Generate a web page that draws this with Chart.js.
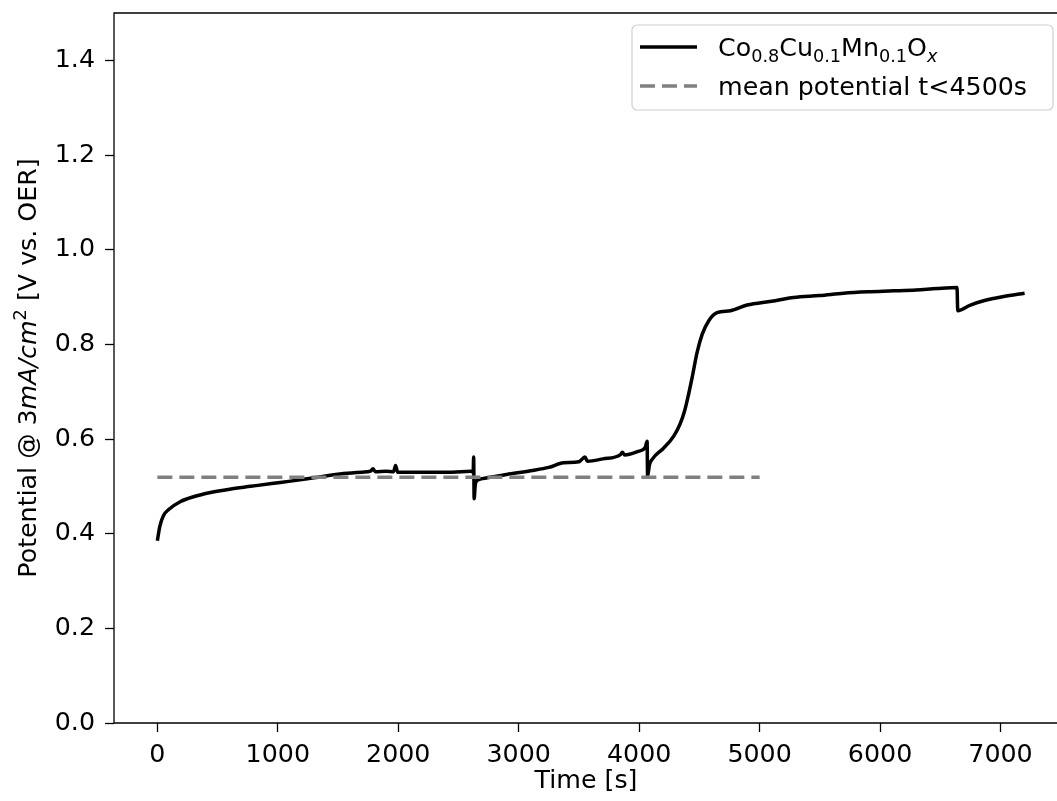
<!DOCTYPE html>
<html>
<head>
<meta charset="utf-8">
<script src="https://cdn.jsdelivr.net/npm/chart.js@4.4.0/dist/chart.umd.min.js"></script>
<style>
  html, body { margin: 0; padding: 0; background: #fff; overflow: hidden; }
  #wrap { width: 1057px; height: 801px; }
</style>
</head>
<body>
<div id="wrap"><canvas id="chart" width="1057" height="801"></canvas></div>
<script>
// measured series (time in s, potential in V)
const times = [0, 20, 50, 94, 193, 300, 442, 600, 774, 950, 1106, 1300, 1546, 1700, 1770, 1790, 1810, 1900,
  1960, 1978, 1995, 2100, 2300, 2450, 2600, 2622, 2626, 2630, 2640, 2666, 2739, 2900, 3098, 3250, 3372,
  3500, 3550, 3570, 3700, 3845, 3860, 3880, 3994, 4050, 4066, 4070, 4085, 4108, 4204, 4287, 4340, 4380,
  4410, 4440, 4481, 4523, 4578, 4647, 4758, 4896, 5100, 5283, 5500, 5698, 5900, 6113, 6300, 6473, 6639,
  6645, 6750, 6860, 7026, 7200]
const potential = [0.385, 0.415, 0.438, 0.451, 0.468, 0.478, 0.487, 0.494, 0.500, 0.506, 0.511, 0.518, 0.527,
  0.530, 0.532, 0.537, 0.531, 0.532, 0.531, 0.544, 0.530, 0.530, 0.530, 0.530, 0.532, 0.530, 0.562, 0.474,
  0.505, 0.514, 0.518, 0.525, 0.533, 0.540, 0.550, 0.552, 0.562, 0.553, 0.558, 0.567, 0.572, 0.566, 0.574,
  0.582, 0.595, 0.521, 0.545, 0.557, 0.581, 0.606, 0.632, 0.662, 0.694, 0.730, 0.783, 0.821, 0.850, 0.867,
  0.871, 0.883, 0.891, 0.899, 0.903, 0.908, 0.911, 0.913, 0.915, 0.918, 0.920, 0.871, 0.883, 0.892, 0.901,
  0.908]

const meanTimes = [0, 5000]
const meanPotential = [0.519, 0.519]

const xTicks = [0, 1000, 2000, 3000, 4000, 5000, 6000, 7000]
const yTicks = [0.0, 0.2, 0.4, 0.6, 0.8, 1.0, 1.2, 1.4]

const FONT = "'DejaVu Sans', sans-serif"
const FS = 25.3
Chart.defaults.font.family = FONT
Chart.defaults.color = '#000'

// text made of runs: {t, italic, sub, sup}
function runFont(r, size) {
  const s = (r.sub || r.sup) ? size * 0.7 : size
  return (r.italic ? 'italic ' : '') + s + 'px ' + FONT
}
function runsWidth(ctx, runs, size) {
  let w = 0
  runs.forEach(r => { ctx.font = runFont(r, size); w += ctx.measureText(r.t).width })
  return w
}
function drawRuns(ctx, runs, x, y, size) {
  ctx.textBaseline = 'alphabetic'
  ctx.textAlign = 'left'
  runs.forEach(r => {
    ctx.font = runFont(r, size)
    const dy = r.sub ? size * 0.22 : r.sup ? -size * 0.4 : 0
    ctx.fillText(r.t, x, y + dy)
    x += ctx.measureText(r.t).width
  })
}

const yTitle = [
  { t: 'Potential @ ' }, { t: '3' }, { t: 'mA/cm', italic: true }, { t: '2', sup: true }, { t: ' [V vs. OER]' }
]
const legendRows = [
  { runs: [{ t: 'Co' }, { t: '0.8', sub: true }, { t: 'Cu' }, { t: '0.1', sub: true }, { t: 'Mn' },
    { t: '0.1', sub: true }, { t: 'O' }, { t: 'x', sub: true, italic: true }], color: '#000', dash: [] },
  { runs: [{ t: 'mean potential t<4500s' }], color: '#808080', dash: [15, 7] }
]

const decor = {
  id: 'decor',
  afterDraw(chart) {
    const { ctx, chartArea: a } = chart
    ctx.save()
    // frame (right spine falls outside the picture)
    ctx.strokeStyle = '#000'
    ctx.lineWidth = 1.3
    ctx.beginPath()
    ctx.moveTo(a.right + 5, a.top)
    ctx.lineTo(a.left, a.top)
    ctx.lineTo(a.left, a.bottom)
    ctx.lineTo(a.right + 5, a.bottom)
    ctx.stroke()
    ctx.fillStyle = '#000'

    // x title
    ctx.font = FS + 'px ' + FONT
    ctx.textAlign = 'center'
    ctx.textBaseline = 'middle'
    ctx.fillText('Time [s]', 586, 781)

    // y title
    ctx.save()
    ctx.translate(27, 368)
    ctx.rotate(-Math.PI / 2)
    const w = runsWidth(ctx, yTitle, FS)
    drawRuns(ctx, yTitle, -w / 2, 9.2, FS)
    ctx.restore()

    // legend
    const bx = 632, by = 25, bw = 421, bh = 85, r = 5
    ctx.beginPath()
    ctx.roundRect(bx, by, bw, bh, r)
    ctx.fillStyle = 'rgba(255,255,255,0.8)'
    ctx.fill()
    ctx.strokeStyle = '#d0d0d0'
    ctx.lineWidth = 1.2
    ctx.stroke()
    const rowY = [47, 86]
    legendRows.forEach((row, i) => {
      ctx.beginPath()
      ctx.setLineDash(row.dash)
      ctx.strokeStyle = row.color
      ctx.lineWidth = 3.5
      ctx.moveTo(640, rowY[i])
      ctx.lineTo(697, rowY[i])
      ctx.stroke()
      ctx.setLineDash([])
      ctx.fillStyle = '#000'
      drawRuns(ctx, row.runs, 718, rowY[i] + 9.2, FS)
    })
    ctx.restore()
  }
}

new Chart(document.getElementById('chart'), {
  type: 'line',
  data: {
    datasets: [
      {
        label: 'Co0.8Cu0.1Mn0.1Ox',
        data: times.map((t, i) => ({ x: t, y: potential[i] })),
        borderColor: '#000',
        borderWidth: 3.5,
        pointRadius: 0,
        cubicInterpolationMode: 'monotone',
        order: 2
      },
      {
        label: 'mean potential t<4500s',
        data: meanTimes.map((t, i) => ({ x: t, y: meanPotential[i] })),
        borderColor: '#808080',
        borderWidth: 3.5,
        borderDash: [15, 7],
        pointRadius: 0,
        order: 1
      }
    ]
  },
  options: {
    responsive: false,
    animation: false,
    devicePixelRatio: 1,
    layout: { padding: { top: 13, right: 0, left: 0, bottom: 0 } },
    plugins: { legend: { display: false }, tooltip: { enabled: false } },
    scales: {
      x: {
        type: 'linear',
        min: -360,
        max: 7469,
        afterBuildTicks: s => { s.ticks = xTicks.map(v => ({ value: v })) },
        afterFit: s => { s.height = 78; s.paddingLeft = 0; s.paddingRight = 0 },
        ticks: { font: { size: FS }, color: '#000', padding: 8, maxRotation: 0, callback: v => String(v) },
        grid: { drawOnChartArea: false, tickLength: 9, color: '#000', tickWidth: 1.3 },
        border: { display: false }
      },
      y: {
        type: 'linear',
        min: 0,
        max: 1.5,
        afterBuildTicks: s => { s.ticks = yTicks.map(v => ({ value: v })) },
        afterFit: s => { s.width = 114; s.paddingTop = 0; s.paddingBottom = 0 },
        ticks: { font: { size: FS }, color: '#000', padding: 10, callback: v => v.toFixed(1) },
        grid: { drawOnChartArea: false, tickLength: 9, color: '#000', tickWidth: 1.3 },
        border: { display: false }
      }
    }
  },
  plugins: [decor]
})
</script>
</body>
</html>
